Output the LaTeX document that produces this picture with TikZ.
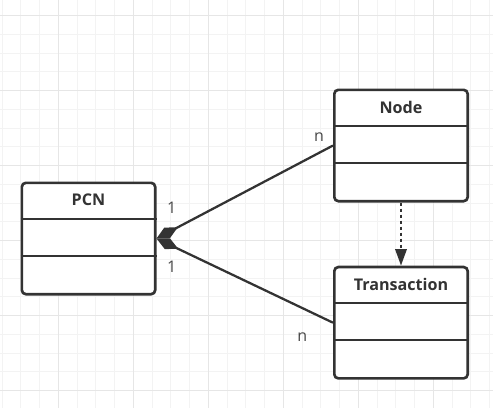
\documentclass[tikz,border=0pt]{standalone}
\usepackage{fontspec}
\setmainfont{Open Sans}
\usepackage{xcolor}
\definecolor{inkgray}{HTML}{333333}
\definecolor{gridminor}{HTML}{F3F3F3}
\definecolor{gridmajor}{HTML}{E6E6E6}
\usepackage{tikz}
\usetikzlibrary{arrows.meta}
\tikzset{
  classbox/.style = {rectangle, draw=inkgray, line width=2pt, rounded corners=3pt, fill=white, minimum width=100pt, minimum height=83.5pt, inner sep=0pt},
  classtitle/.style = {font=\fontsize{12.1pt}{14pt}\selectfont\bfseries, text=inkgray, inner sep=0pt},
  multiplicity/.style = {font=\fontsize{12pt}{14pt}\selectfont, text=inkgray!90, inner sep=0pt},
  divider/.style = {draw=inkgray, line width=1.6pt},
  composition/.style = {draw=inkgray, line width=1.7pt, {Diamond[length=18pt,width=9pt]}-},
  dependency/.style = {draw=inkgray, line width=1.8pt, dash pattern=on 2.25pt off 2.25pt, -{Triangle[length=12.5pt,width=8.5pt]}}
}

\begin{document}
\begin{tikzpicture}[x=0.75pt, y=-0.75pt]

    \useasboundingbox (0,0) rectangle (493,408);

    % grid
    \foreach \i in {0,...,26}
        \draw[gridminor, line width=0.75pt] ({2.05+\i*18.75},0) -- ({2.05+\i*18.75},408);
    \foreach \j in {0,...,21}
        \draw[gridminor, line width=0.75pt] (0,{15.7+\j*18.75}) -- (493,{15.7+\j*18.75});
    \foreach \i in {0,...,5}
        \draw[gridmajor, line width=0.75pt] ({58.3+\i*75},0) -- ({58.3+\i*75},408);
    \foreach \j in {0,...,5}
        \draw[gridmajor, line width=0.75pt] (0,{15.7+\j*75}) -- (493,{15.7+\j*75});

    \node (pcnClass) [classbox] at (88.5,238.5) {};
    \node (nodeClass) [classbox] at (401,145.5) {};
    \node (transactionClass) [classbox] at (401,322.7) {};

    \foreach \c in {pcnClass, nodeClass, transactionClass} {
        \draw[divider] ([yshift=-27.8pt]\c.north west) -- ([yshift=-27.8pt]\c.north east);
        \draw[divider] ([yshift=-55.7pt]\c.north west) -- ([yshift=-55.7pt]\c.north east);
    }

    \node (pcnTitle) [classtitle] at ([yshift=-13.9pt]pcnClass.north) {PCN};
    \node (nodeTitle) [classtitle] at ([yshift=-13.9pt]nodeClass.north) {Node};
    \node (transactionTitle) [classtitle] at ([yshift=-13.9pt]transactionClass.north) {Transaction};

    \draw[composition] (pcnClass.east) -- (nodeClass.west);
    \draw[composition] (pcnClass.east) -- (transactionClass.west);
    \draw[dependency] (nodeClass.south) -- (transactionClass.north);

    \node (pcnNodeOne) [multiplicity] at (171.7,208) {1};
    \node (pcnTransactionOne) [multiplicity] at (171.7,266.7) {1};
    \node (nodeMany) [multiplicity] at (319,137.5) {n};
    \node (transactionMany) [multiplicity] at (302.3,337.5) {n};

\end{tikzpicture}
\end{document}
